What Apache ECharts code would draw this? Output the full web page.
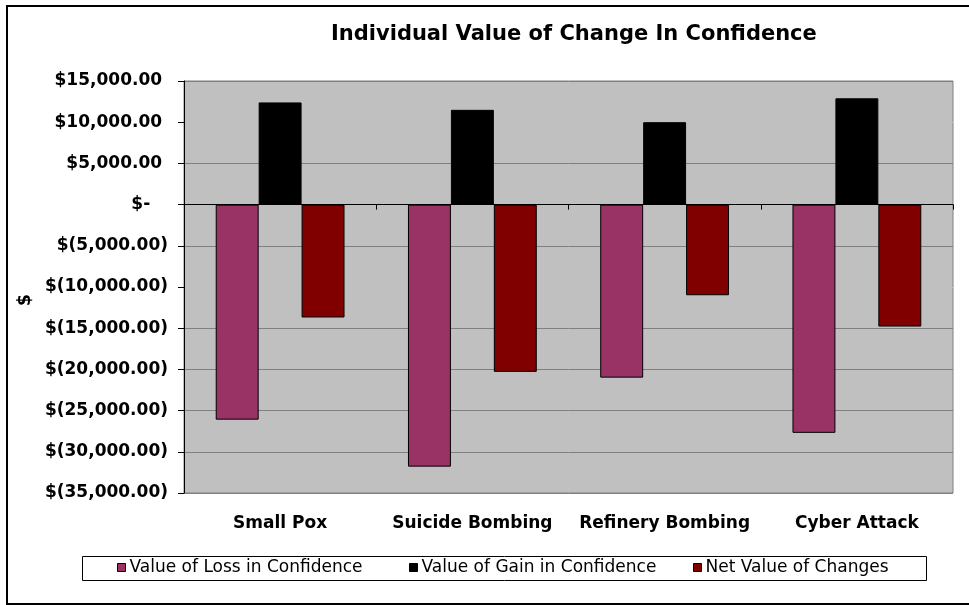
<!DOCTYPE html>
<html>
<head>
<meta charset="utf-8">
<script src="https://cdn.jsdelivr.net/npm/echarts@6/dist/echarts.min.js"></script>
<style>html,body{margin:0;padding:0;background:#fff;}#chart{width:969px;height:605px;}</style>
</head>
<body>
<div id="chart"></div>
<script>
const titleText = 'Individual Value of Change In Confidence';
const categories = ['Small Pox', 'Suicide Bombing', 'Refinery Bombing', 'Cyber Attack'];
const seriesNames = ['Value of Loss in Confidence', 'Value of Gain in Confidence', 'Net Value of Changes'];
const lossValues = [-26100, -31800, -21000, -27700];
const gainValues = [12400, 11500, 10000, 12900];
const netValues = [-13700, -20300, -11000, -14800];
const yTickValues = [-35000, -30000, -25000, -20000, -15000, -10000, -5000, 0, 5000, 10000, 15000];
const yTickLabels = ['$(35,000.00)', '$(30,000.00)', '$(25,000.00)', '$(20,000.00)', '$(15,000.00)', '$(10,000.00)', '$(5,000.00)', '$-   ', '$5,000.00 ', '$10,000.00 ', '$15,000.00 '];
const yAxisName = '$';
const colors = ['#993366', '#000000', '#800000'];

const chart = echarts.init(document.getElementById('chart'), null, {renderer: 'canvas'});
const boldFont = 'DejaVu Sans';
const gridLineColors = yTickValues.map(function (v) {
  if (v === -10000 || v === 10000) return '#C0C0C0';
  if (v === 0) return '#000000';
  return '#808080';
});

const seriesData = [lossValues, gainValues, netValues];
const legendX = [117, 409, 693];

const option = {
  animation: false,
  backgroundColor: '#ffffff',
  title: {
    text: titleText,
    left: 331,
    top: 24,
    padding: 0,
    textStyle: {fontFamily: boldFont, fontWeight: 'bold', fontSize: 21, color: '#000'}
  },
  legend: seriesNames.map(function (n, i) {
    return {
      data: [n],
      left: legendX[i],
      top: 559,
      padding: 0,
      itemWidth: 8,
      itemHeight: 8,
      itemGap: 0,
      icon: 'rect',
      itemStyle: {borderColor: '#000', borderWidth: 1},
      textStyle: {fontFamily: 'DejaVu Sans', fontSize: 17, color: '#000', padding: [0, 0, 0, -1]},
      selectedMode: false
    };
  }),
  grid: {
    left: 184, right: 16, top: 81, bottom: 112,
    show: true, backgroundColor: '#C0C0C0', borderColor: '#808080', borderWidth: 1,
    containLabel: false
  },
  xAxis: [
    {
      type: 'category',
      data: categories,
      position: 'bottom',
      axisLine: {show: false, onZero: false},
      axisTick: {show: false},
      axisLabel: {margin: 22, fontFamily: boldFont, fontWeight: 'bold', fontSize: 17, color: '#000', interval: 0}
    },
    {
      type: 'category',
      data: categories,
      position: 'bottom',
      axisLine: {show: true, onZero: true, lineStyle: {color: '#000', width: 1}},
      axisTick: {show: true, length: 5, lineStyle: {color: '#000'}},
      axisLabel: {show: false},
      splitLine: {show: false}
    }
  ],
  yAxis: {
    type: 'value',
    min: -35000,
    max: 15000,
    interval: 5000,
    name: yAxisName,
    nameLocation: 'middle',
    nameGap: 149,
    nameRotate: 90,
    nameTextStyle: {fontFamily: boldFont, fontWeight: 'bold', fontSize: 17, color: '#000', padding: [0, 26, 0, 0]},
    axisLine: {show: true, lineStyle: {color: '#000', width: 1}},
    axisTick: {show: true, length: 6, lineStyle: {color: '#000'}},
    axisLabel: {
      margin: 16,
      fontFamily: boldFont, fontWeight: 'bold', fontSize: 17, color: '#000',
      formatter: function (v) {
        const i = yTickValues.indexOf(v);
        return i >= 0 ? yTickLabels[i] : '';
      }
    },
    splitLine: {show: true, lineStyle: {color: gridLineColors, width: 1}}
  },
  series: seriesNames.map(function (n, i) {
    return {
      name: n,
      type: 'bar',
      xAxisIndex: 0,
      data: seriesData[i],
      barGap: '0%',
      barCategoryGap: '33%',
      itemStyle: {color: colors[i], borderColor: '#000', borderWidth: 1}
    };
  }),
  graphic: [
    {type: 'rect', shape: {x: 7, y: 6, width: 980, height: 598}, style: {fill: 'none', stroke: '#000', lineWidth: 2}, silent: true, z: 100},
    {type: 'rect', shape: {x: 82.5, y: 556.5, width: 844, height: 24}, style: {fill: 'none', stroke: '#000', lineWidth: 1}, silent: true, z: 100}
  ]
};
chart.setOption(option);
</script>
</body>
</html>
